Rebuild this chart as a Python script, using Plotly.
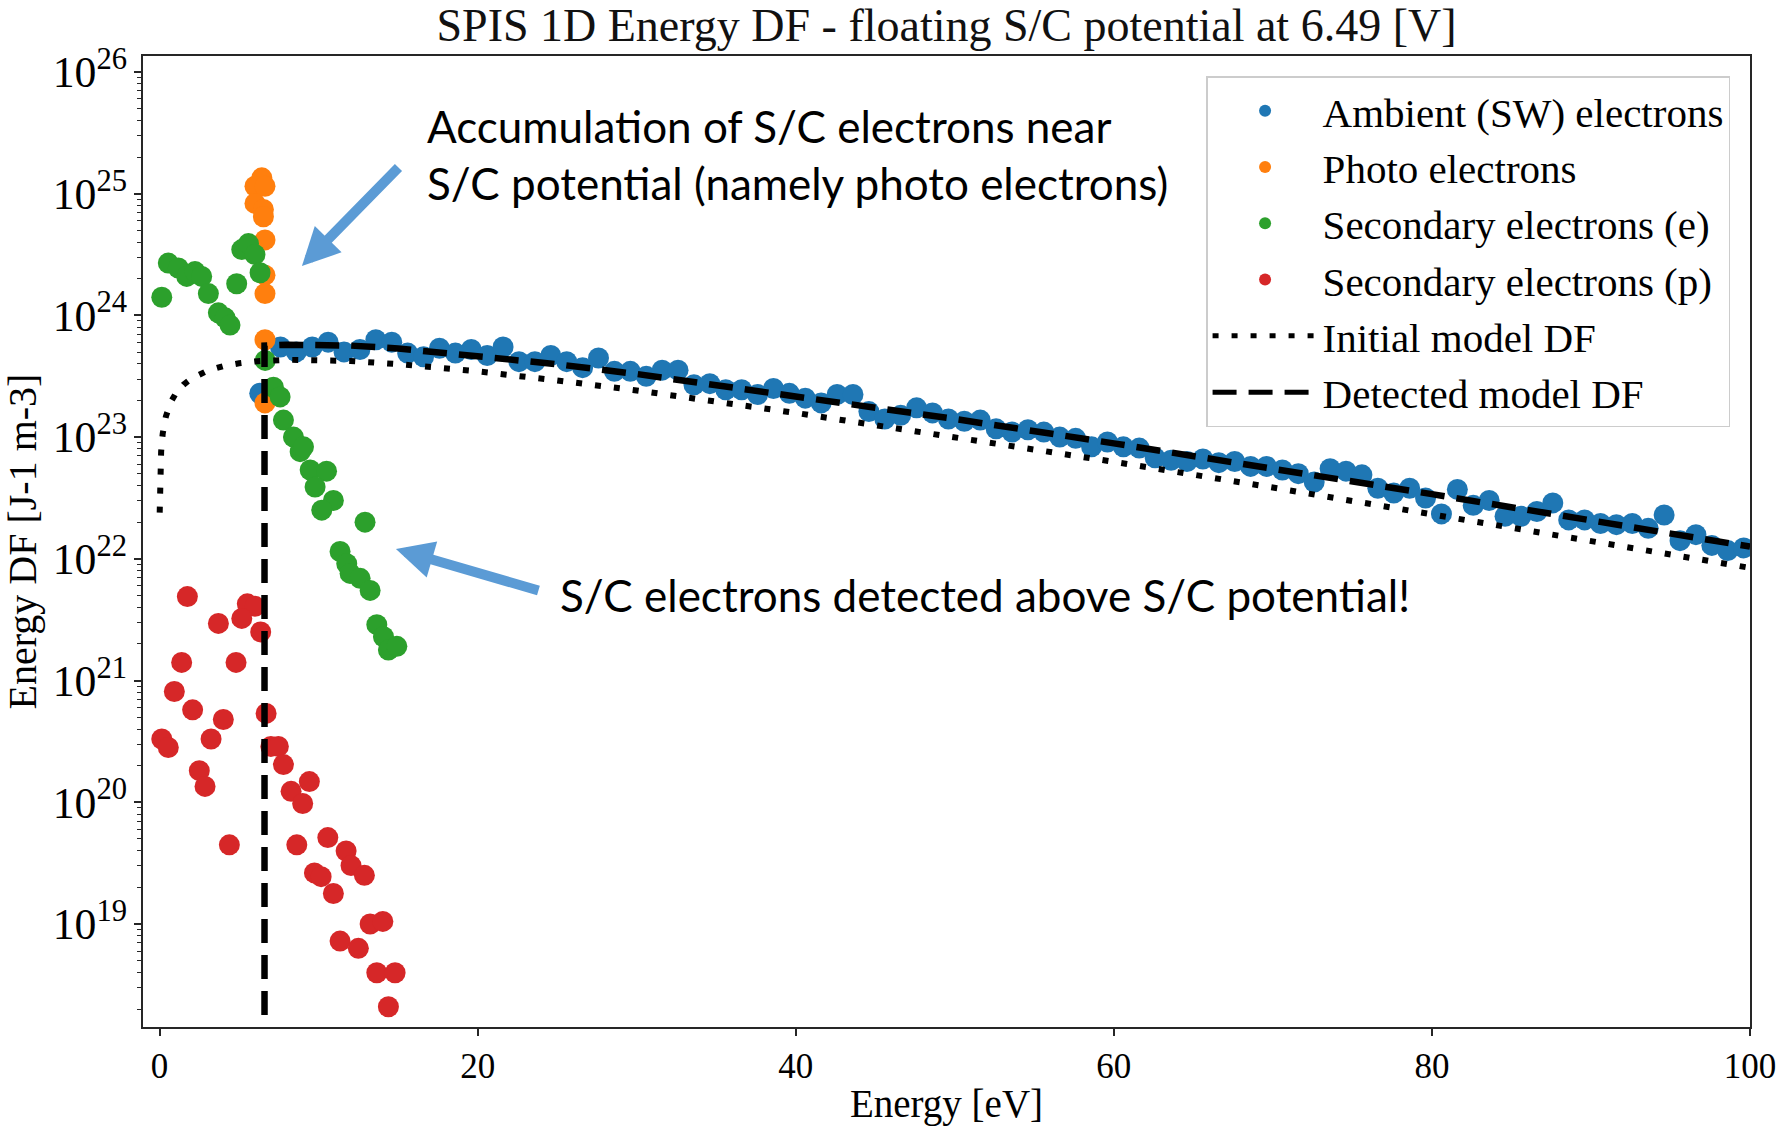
import plotly.graph_objects as go

# ---- Ambient (solar wind) electrons: energy [eV] and energy DF [J-1 m-3]
ambient_energy = [
    6.3, 7.6, 8.6, 9.6, 10.6, 11.6, 12.6, 13.6, 14.6, 15.6, 16.6, 17.6, 18.6, 19.6,
    20.6, 21.6, 22.6, 23.6, 24.6, 25.6, 26.6, 27.6, 28.6, 29.6, 30.6, 31.6, 32.6,
    33.6, 34.6, 35.6, 36.6, 37.6, 38.6, 39.6, 40.6, 41.6, 42.6, 43.6, 44.6, 45.6,
    46.6, 47.6, 48.6, 49.6, 50.6, 51.6, 52.6, 53.6, 54.6, 55.6, 56.6, 57.6, 58.6,
    59.6, 60.6, 61.6, 62.6, 63.6, 64.6, 65.6, 66.6, 67.6, 68.6, 69.6, 70.6, 71.6,
    72.6, 73.6, 74.6, 75.6, 76.6, 77.6, 78.6, 79.6, 80.6, 81.6, 82.6, 83.6, 84.6,
    85.6, 86.6, 87.6, 88.6, 89.6, 90.6, 91.6, 92.6, 93.6, 94.6, 95.6, 96.6, 97.6,
    98.6, 99.6,
]
ambient_df = [
    2.29e23, 5.50e23, 5.01e23, 5.50e23, 6.03e23, 5.01e23, 5.25e23, 6.31e23, 6.03e23,
    4.90e23, 4.57e23, 5.37e23, 4.90e23, 5.25e23, 4.68e23, 5.50e23, 4.17e23, 4.17e23,
    4.68e23, 4.17e23, 3.72e23, 4.47e23, 3.47e23, 3.47e23, 3.16e23, 3.55e23, 3.55e23,
    2.69e23, 2.75e23, 2.45e23, 2.45e23, 2.24e23, 2.51e23, 2.29e23, 2.09e23, 1.91e23,
    2.24e23, 2.24e23, 1.62e23, 1.41e23, 1.51e23, 1.74e23, 1.58e23, 1.41e23, 1.35e23,
    1.38e23, 1.17e23, 1.10e23, 1.15e23, 1.10e23, 1.00e23, 9.77e22, 8.32e22, 9.12e22,
    8.32e22, 8.13e22, 6.76e22, 6.46e22, 6.31e22, 6.61e22, 6.17e22, 6.31e22, 5.75e22,
    5.75e22, 5.37e22, 5.01e22, 4.27e22, 5.50e22, 5.25e22, 4.90e22, 3.80e22, 3.47e22,
    3.80e22, 3.16e22, 2.34e22, 3.72e22, 2.75e22, 3.02e22, 2.24e22, 2.24e22, 2.45e22,
    2.88e22, 2.09e22, 2.09e22, 1.95e22, 1.91e22, 1.95e22, 1.78e22, 2.29e22, 1.41e22,
    1.58e22, 1.29e22, 1.17e22, 1.23e22,
]

# ---- Photo electrons
photo_energy = [6.43, 6.0, 6.63, 6.0, 6.53, 6.53, 6.63, 6.63, 6.63, 6.63, 6.63]
photo_df = [1.35e25, 1.15e25, 1.15e25, 8.32e24, 7.41e24, 6.46e24, 4.17e24,
            2.14e24, 1.51e24, 6.31e23, 1.91e23]

# ---- Secondary electrons emitted under electron impact
sec_e_energy = [
    0.14, 0.55, 1.18, 1.71, 2.23, 2.65, 3.07, 3.7, 4.12, 4.43, 4.85, 5.17, 5.59,
    6.0, 6.32, 6.64, 7.16, 7.58, 7.79, 8.42, 8.84, 9.05, 9.47, 10.5, 9.78, 10.93,
    10.2, 12.92, 11.35, 11.77, 11.98, 12.61, 13.24, 13.66, 14.08, 14.39, 14.92,
]
sec_e_df = [
    1.41e24, 2.69e24, 2.45e24, 2.09e24, 2.29e24, 2.09e24, 1.51e24, 1.05e24, 9.55e23,
    8.32e23, 1.82e24, 3.47e24, 3.89e24, 3.16e24, 2.24e24, 4.27e23, 2.57e23, 2.14e23,
    1.38e23, 1.00e23, 7.59e22, 8.32e22, 5.37e22, 5.25e22, 3.89e22, 3.02e22, 2.51e22,
    2.00e22, 1.15e22, 9.12e21, 7.59e21, 6.92e21, 5.50e21, 2.88e21, 2.29e21, 1.78e21,
    1.91e21,
]

# ---- Secondary electrons emitted under proton impact
sec_p_energy = [
    1.75, 5.52, 6.0, 3.7, 5.17, 6.36, 1.39, 4.81, 0.93, 2.08, 4.01, 6.70, 0.14,
    0.55, 3.24, 7.0, 7.47, 7.79, 2.5, 9.42, 2.86, 8.27, 9.0, 4.39, 8.63, 10.58,
    11.73, 12.04, 12.88, 9.74, 10.16, 10.93, 13.24, 14.04, 11.35, 12.5, 13.66,
    14.81, 14.39,
]
sec_p_df = [
    4.90e21, 4.27e21, 4.07e21, 2.95e21, 3.24e21, 2.51e21, 1.41e21, 1.41e21, 8.13e20,
    5.75e20, 4.79e20, 5.37e20, 3.31e20, 2.82e20, 3.31e20, 2.88e20, 2.88e20, 2.04e20,
    1.82e20, 1.48e20, 1.35e20, 1.23e20, 9.77e19, 4.47e19, 4.47e19, 5.13e19, 3.98e19,
    3.02e19, 2.51e19, 2.63e19, 2.45e19, 1.78e19, 1.00e19, 1.05e19, 7.24e18, 6.31e18,
    3.98e18, 3.98e18, 2.09e18,
]

# ---- Initial (undisturbed) model DF
initial_energy = [0.01, 0.03, 0.06, 0.1, 0.2, 0.4, 0.7, 1, 1.5, 2, 3, 4, 5, 6, 8,
                  10, 12, 15, 20, 25, 30, 40, 50, 60, 70, 80, 90, 100]
initial_df = [2.40e22, 4.17e22, 5.89e22, 7.59e22, 1.07e23, 1.48e23, 1.93e23,
              2.26e23, 2.69e23, 3.02e23, 3.51e23, 3.83e23, 4.04e23, 4.19e23,
              4.32e23, 4.32e23, 4.22e23, 3.98e23, 3.47e23, 2.92e23, 2.42e23,
              1.58e23, 1.00e23, 6.27e22, 3.85e22, 2.33e22, 1.41e22, 8.43e21]

# ---- Model DF seen by the detector: nothing below the S/C potential, so the
# first sample sits far under the plotted decades (a log axis cannot show 0)
detected_energy = [6.6, 6.6, 8, 10, 12, 15, 20, 25, 30, 40, 50, 60, 70, 80, 90, 100]
detected_df = [1e15, 5.64e23, 5.75e23, 5.75e23, 5.65e23, 5.35e23, 4.68e23, 3.97e23,
               3.30e23, 2.19e23, 1.41e23, 8.89e22, 5.53e22, 3.40e22, 2.07e22, 1.26e22]

x_tick_values = [0, 20, 40, 60, 80, 100]

SERIF = "Liberation Serif, Times New Roman, serif"
AXIS_COLOR = "#262626"
MARKER_SIZE = 21

fig = go.Figure()

scatter_sets = [
    ("Ambient (SW) electrons", ambient_energy, ambient_df, "#1f77b4"),
    ("Photo electrons", photo_energy, photo_df, "#ff7f0e"),
    ("Secondary electrons (e)", sec_e_energy, sec_e_df, "#2ca02c"),
    ("Secondary electrons (p)", sec_p_energy, sec_p_df, "#d62728"),
]
for name, xs, ys, color in scatter_sets:
    fig.add_trace(go.Scatter(
        x=xs, y=ys, mode="markers", name=name,
        marker=dict(size=MARKER_SIZE, color=color, line=dict(width=0)),
    ))

fig.add_trace(go.Scatter(
    x=initial_energy, y=initial_df, mode="lines", name="Initial model DF",
    line=dict(color="black", width=6, dash="6px,13px"),
))
fig.add_trace(go.Scatter(
    x=detected_energy, y=detected_df, mode="lines", name="Detected model DF",
    line=dict(color="black", width=6.5, dash="24px,12px"),
))

ARROW_BLUE = "#5b9bd5"
ANNOT_FONT = dict(family="Lato, Carlito, sans-serif", size=44, color="black")

fig.update_layout(
    width=1790, height=1126,
    margin=dict(l=143, r=40, t=56, b=99),
    paper_bgcolor="white", plot_bgcolor="white",
    font=dict(family=SERIF, color="black"),
    title=dict(
        text="SPIS 1D Energy DF - floating S/C potential at 6.49 [V]",
        x=0.5, xref="paper", xanchor="center",
        y=1 - 25 / 1126, yref="container", yanchor="middle",
        font=dict(family=SERIF, size=46, color="#111111"),
    ),
    xaxis=dict(
        range=[-1.04, 100], tickvals=x_tick_values, automargin=False,
        ticks="outside", ticklen=7, tickwidth=1.6, tickcolor=AXIS_COLOR,
        showline=True, linecolor=AXIS_COLOR, linewidth=2, mirror=True,
        showgrid=False, zeroline=False,
        tickfont=dict(family=SERIF, size=35),
        title=dict(text="Energy [eV]", font=dict(family=SERIF, size=39), standoff=6),
    ),
    yaxis=dict(
        type="log", range=[18.154, 26.131], automargin=True,
        tickmode="linear", tick0=0, dtick=1, exponentformat="power",
        ticks="outside", ticklen=7, tickwidth=1.6, tickcolor=AXIS_COLOR,
        minor=dict(ticks="outside", ticklen=4, tickwidth=1.2, tickcolor=AXIS_COLOR,
                   dtick="D1", showgrid=False),
        showline=True, linecolor=AXIS_COLOR, linewidth=2, mirror=True,
        showgrid=False, zeroline=False,
        tickfont=dict(family=SERIF, size=35),
        title=dict(text="Energy DF [J-1 m-3]", font=dict(family=SERIF, size=40), standoff=8),
    ),
    legend=dict(
        x=0.9876, y=0.9794, xanchor="right", yanchor="top",
        bgcolor="rgba(255,255,255,0.9)", bordercolor="#cccccc", borderwidth=1.5,
        font=dict(family=SERIF, size=41, color="black"),
        itemwidth=105, itemsizing="constant", tracegroupgap=0,
    ),
    showlegend=True,
)

fig.add_annotation(
    text="Accumulation of S/C electrons near<br>S/C potential (namely photo electrons)",
    xref="paper", yref="paper", x=0.1755, y=0.899, xanchor="left", yanchor="middle",
    align="left", showarrow=False, font=ANNOT_FONT,
)
fig.add_annotation(
    text="S/C electrons detected above S/C potential!",
    xref="paper", yref="paper", x=0.2582, y=0.4449, xanchor="left", yanchor="middle",
    align="left", showarrow=False, font=ANNOT_FONT,
)
# Pointer arrows towards the two groups of S/C electrons
fig.add_annotation(
    text="", xref="paper", yref="paper", x=0.0989, y=0.7837,
    ax=98, ay=-100, axref="pixel", ayref="pixel",
    showarrow=True, arrowhead=2, arrowsize=0.75, arrowwidth=10,
    arrowcolor=ARROW_BLUE, standoff=0,
)
fig.add_annotation(
    text="", xref="paper", yref="paper", x=0.1574, y=0.4923,
    ax=144, ay=42, axref="pixel", ayref="pixel",
    showarrow=True, arrowhead=2, arrowsize=0.75, arrowwidth=10,
    arrowcolor=ARROW_BLUE, standoff=0,
)

fig.write_html("out.html")
